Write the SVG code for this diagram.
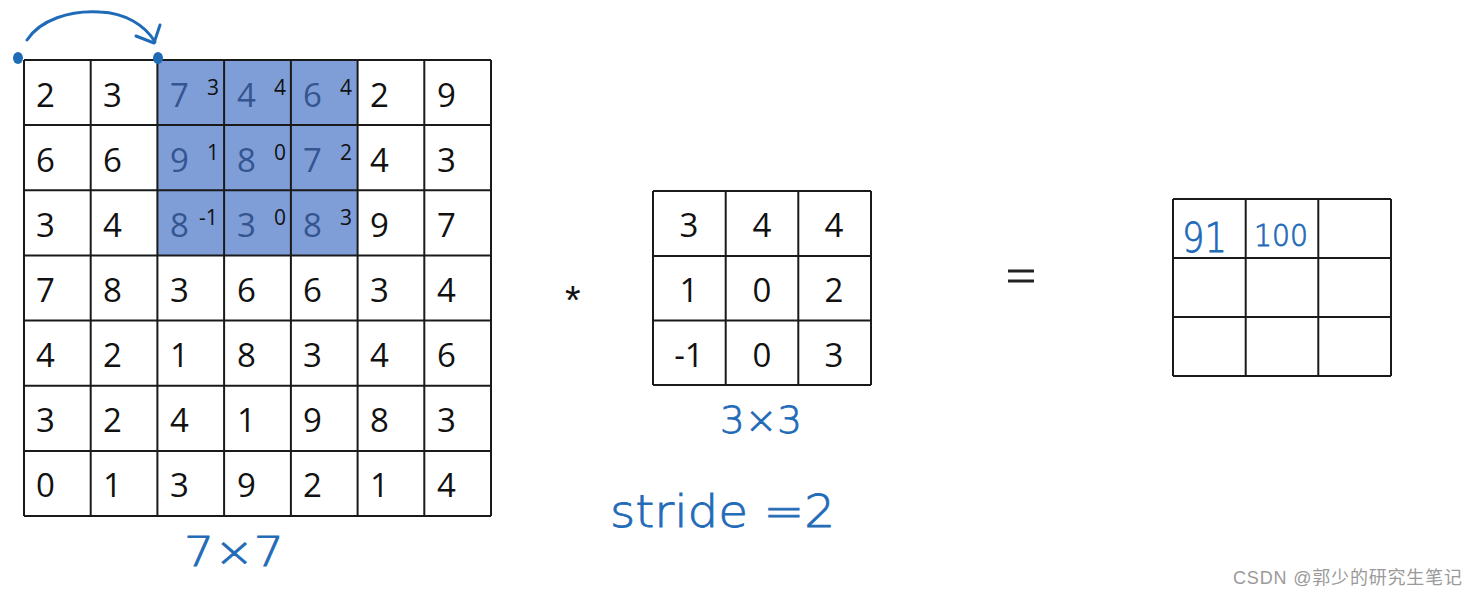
<svg xmlns="http://www.w3.org/2000/svg" width="1479" height="597" viewBox="0 0 1479 597">
<style>
.g{fill:none;stroke:#1a1a1a;stroke-width:2}
.n{font-family:"Open Sans","Liberation Sans",sans-serif;font-size:33px;fill:#111}
.b{font-family:"Open Sans","Liberation Sans",sans-serif;font-size:33px;fill:#34558f}
.s{font-family:"Open Sans","Liberation Sans",sans-serif;font-size:21px;fill:#111}
.k{font-family:"Open Sans","Liberation Sans",sans-serif;font-size:33px;fill:#111;text-anchor:middle}
.h{font-family:"DejaVu Sans",sans-serif;font-weight:200;fill:#1f6bb8;stroke:#1f6bb8;stroke-width:0.8}
.ink{fill:none;stroke:#1f6bb8;stroke-width:3;stroke-linecap:round;stroke-linejoin:round}
</style>
<rect width="1479" height="597" fill="#fff"/>
<g id="input">
<rect x="157.5" y="60" width="200.5" height="196" fill="#7f9ed8"/>
<path class="g" d="M24 60H491M24 125.1H491M24 190.3H491M24 255.4H491M24 320.6H491M24 385.7H491M24 450.9H491M24 516H491M24 60V516M90.7 60V516M157.4 60V516M224.1 60V516M290.9 60V516M357.6 60V516M424.3 60V516M491 60V516"/>
<g class="n">
<text x="36" y="107">2</text><text x="103" y="107">3</text><text x="370" y="107">2</text><text x="437" y="107">9</text>
<text x="36" y="172">6</text><text x="103" y="172">6</text><text x="370" y="172">4</text><text x="437" y="172">3</text>
<text x="36" y="237">3</text><text x="103" y="237">4</text><text x="370" y="237">9</text><text x="437" y="237">7</text>
<text x="36" y="302">7</text><text x="103" y="302">8</text><text x="170" y="302">3</text><text x="237" y="302">6</text><text x="303" y="302">6</text><text x="370" y="302">3</text><text x="437" y="302">4</text>
<text x="36" y="367">4</text><text x="103" y="367">2</text><text x="170" y="367">1</text><text x="237" y="367">8</text><text x="303" y="367">3</text><text x="370" y="367">4</text><text x="437" y="367">6</text>
<text x="36" y="432">3</text><text x="103" y="432">2</text><text x="170" y="432">4</text><text x="237" y="432">1</text><text x="303" y="432">9</text><text x="370" y="432">8</text><text x="437" y="432">3</text>
<text x="36" y="497">0</text><text x="103" y="497">1</text><text x="170" y="497">3</text><text x="237" y="497">9</text><text x="303" y="497">2</text><text x="370" y="497">1</text><text x="437" y="497">4</text>
</g>
<g class="b">
<text x="170" y="107">7</text><text x="237" y="107">4</text><text x="303" y="107">6</text>
<text x="170" y="172">9</text><text x="237" y="172">8</text><text x="303" y="172">7</text>
<text x="170" y="237">8</text><text x="237" y="237">3</text><text x="303" y="237">8</text>
</g>
<g class="s">
<text x="207" y="95">3</text><text x="274" y="95">4</text><text x="340" y="95">4</text>
<text x="207" y="160">1</text><text x="274" y="160">0</text><text x="340" y="160">2</text>
<text x="199" y="225">-1</text><text x="274" y="225">0</text><text x="340" y="225">3</text>
</g>
</g>
<g id="stride-arrow">
<path class="ink" d="M27 40C40 20 70 10 100 12C125 13 145 25 155 42"/>
<path class="ink" d="M160 25L154 43L136 36"/>
<ellipse cx="18" cy="58" rx="5" ry="6" fill="#1f6bb8"/>
<ellipse cx="158" cy="58" rx="5" ry="6" fill="#1f6bb8"/>
</g>
<g id="op"><text x="565" y="314" style="font-family:'Liberation Sans',sans-serif;font-size:40px;fill:#111">*</text></g>
<g id="kernel">
<path class="g" d="M653 191H871M653 256H871M653 320.5H871M653 385H871M653 191V385M725.7 191V385M798.3 191V385M871 191V385"/>
<g class="k">
<text x="689" y="237">3</text><text x="762" y="237">4</text><text x="834" y="237">4</text>
<text x="689" y="302">1</text><text x="762" y="302">0</text><text x="834" y="302">2</text>
<text x="689" y="367">-1</text><text x="762" y="367">0</text><text x="834" y="367">3</text>
</g>
</g>
<g id="eq"><path d="M1008 271H1034M1008 281H1034" stroke="#222" stroke-width="3"/></g>
<g id="output">
<path class="g" d="M1173 199H1391M1173 258H1391M1173 317H1391M1173 376H1391M1173 199V376M1245.7 199V376M1318.3 199V376M1391 199V376"/>
<text class="h" x="1182" y="252" style="font-size:40px" textLength="45" lengthAdjust="spacingAndGlyphs">91</text>
<text class="h" x="1254" y="246" style="font-size:30px" textLength="54" lengthAdjust="spacingAndGlyphs">100</text>
</g>
<g id="labels">
<text class="h" x="720" y="433" style="font-size:38px" textLength="82" lengthAdjust="spacingAndGlyphs">3×3</text>
<text class="h" x="184" y="566" style="font-size:40px" textLength="100" lengthAdjust="spacingAndGlyphs">7×7</text>
<text class="h" x="610" y="527" style="font-size:44px" textLength="225" lengthAdjust="spacingAndGlyphs">stride =2</text>
</g>
<text x="1233" y="584" textLength="229" style="font-family:'Liberation Sans','Noto Sans CJK SC',sans-serif;font-size:18px;fill:#9a9a9a">CSDN @郭少的研究生笔记</text>
</svg>
